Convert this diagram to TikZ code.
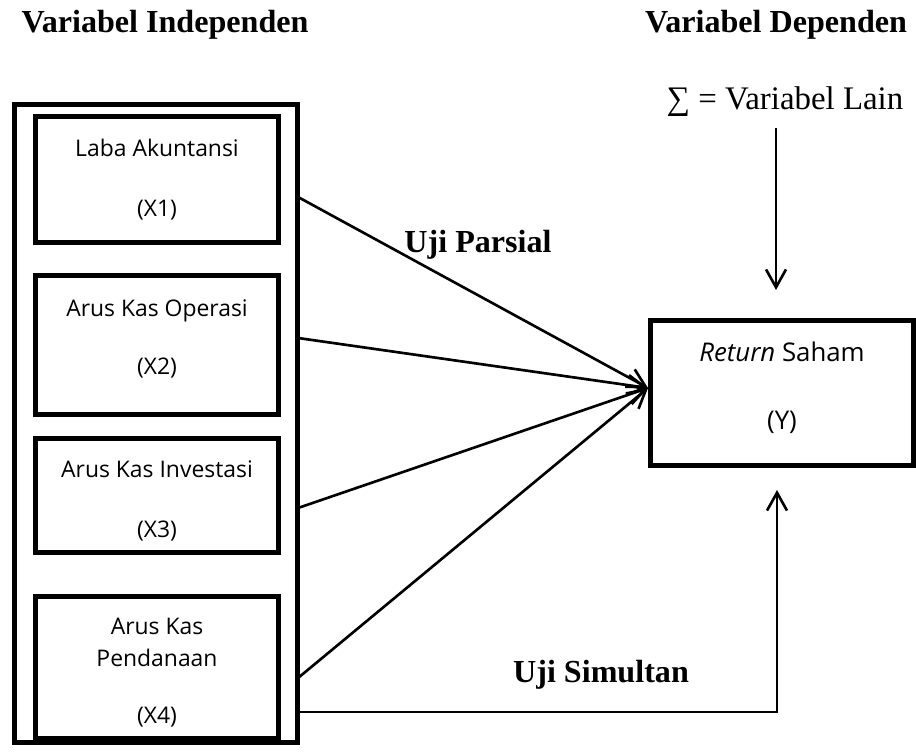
\documentclass[tikz,border=0pt]{standalone}
\usepackage{fontspec}
\setmainfont{Liberation Serif}
\newfontfamily\boxfont{Open Sans}
\usetikzlibrary{arrows.meta}
\tikzset{
  varbox/.style={draw, line width=1.9pt, inner sep=0pt, align=center,
    font=\boxfont\fontsize{8.7}{12}\selectfont},
  groupbox/.style={draw, line width=1.9pt, inner sep=0pt},
  heading/.style={font=\fontsize{12.2}{15}\selectfont\bfseries, anchor=base},
  link/.style={line width=1pt, -{Straight Barb[length=6.8pt,width=7.6pt]}},
}

\begin{document}
\begin{tikzpicture}[x=0.38pt,y=-0.38pt]
        \useasboundingbox (0,0) rectangle (916,754);
        % headings
        \node[heading] (hind) at (165,33) {Variabel Independen};
        \node[heading] (hdep) at (776,33) {Variabel Dependen};
        \node[anchor=base, font=\fontsize{12.5}{15}\selectfont] (lain) at (785,110) {∑ = Variabel Lain};

        % independent variables
        \node[groupbox, minimum width=107.54pt, minimum height=242.44pt] (indep) at (156,423.5) {};
        \node[varbox, minimum width=92.34pt, minimum height=47.88pt] (x1) at (157,180)
          {Laba Akuntansi\\[10.8pt](X1)};
        \node[varbox, minimum width=92.34pt, minimum height=52.44pt] (x2) at (157,345)
          {Arus Kas Operasi\\[10pt](X2)\\[-6pt]};
        \node[varbox, minimum width=92.34pt, minimum height=43.32pt] (x3) at (157,495)
          {\\[-1pt]Arus Kas Investasi\\[10.8pt](X3)};
        \node[varbox, minimum width=92.34pt, minimum height=53.96pt] (x4) at (157,667)
          {\\[-1.5pt]Arus Kas\\Pendanaan\\[9.7pt](X4)};

        % dependent variable
        \node[varbox, minimum width=100.13pt, minimum height=55.1pt,
          font=\boxfont\fontsize{9.8}{13.5}\selectfont] (ret) at (782,393)
          {{\itshape Return} Saham\\[12.5pt](Y)\\[-8pt]};

        % partial test arrows
        \coordinate (s1) at (298,197);
        \coordinate (s2) at (298,338);
        \coordinate (s3) at (298,508);
        \coordinate (s4) at (298,678);
        \coordinate (tip) at (648,388);
        \foreach \k in {1,2,3,4}{
          \draw[link] (s\k) -- (tip);
        }
        \node[heading] (parsial) at (478,253) {Uji Parsial};

        % simultaneous test
        \coordinate (s5) at (298,712);
        \coordinate (up) at (777,490);
        \draw[link] (s5) -- (s5 -| up) -- (up);
        \node[heading] (simultan) at (601,682) {Uji Simultan};

        % other variables
        \coordinate (d1) at (776,128);
        \coordinate (d2) at (776,290);
        \draw[link] (d1) -- (d2);
    \end{tikzpicture}
\end{document}
